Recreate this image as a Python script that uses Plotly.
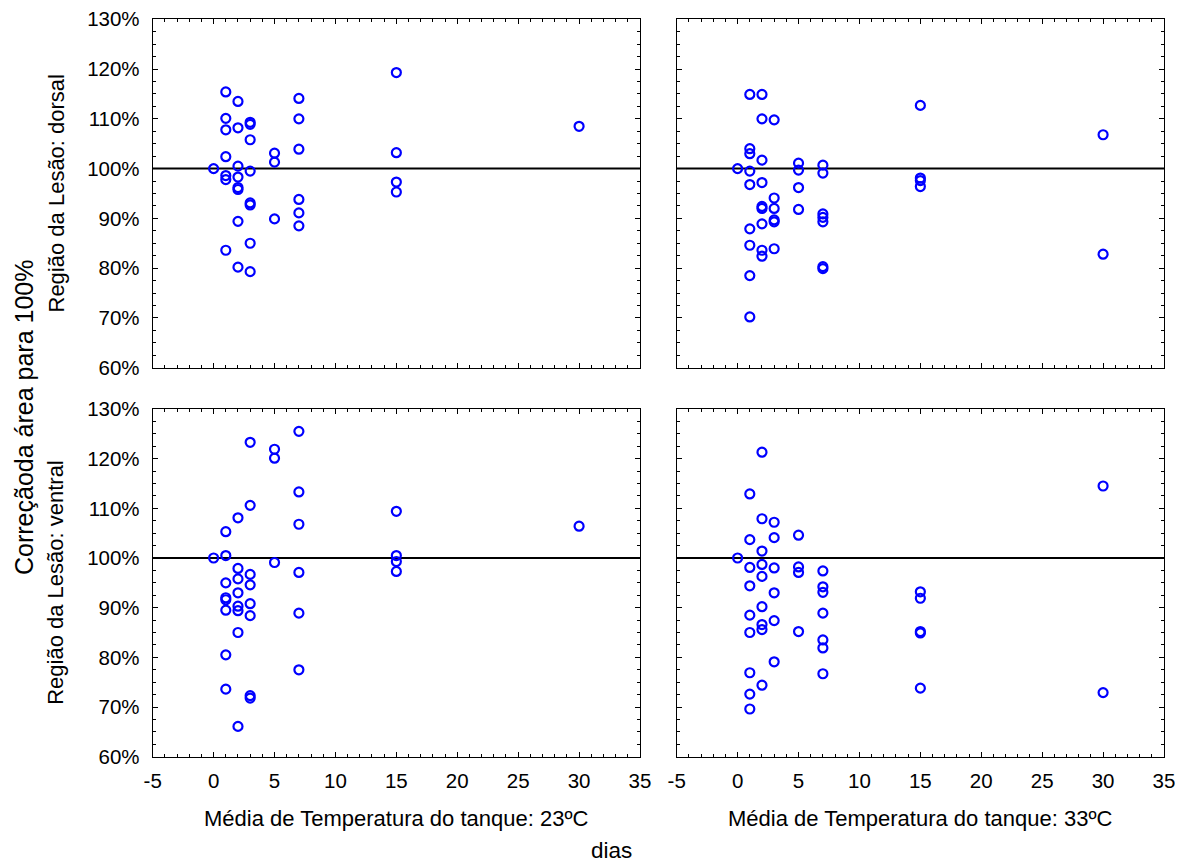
import plotly.graph_objects as go

# ---- data (days, % area) ----
dias_dorsal_23 = [0, 1, 1, 1, 1, 1, 1, 1, 2, 2, 2, 2, 2, 2, 2, 2,
                  3, 3, 3, 3, 3, 3, 3, 3, 5, 5, 5, 7, 7, 7, 7, 7, 7,
                  15, 15, 15, 15, 30]
val_dorsal_23 = [100.0, 115.4, 110.1, 107.8, 102.4, 98.6, 97.8, 83.6,
                 113.5, 108.2, 100.5, 98.3, 96.2, 95.8, 89.4, 80.2,
                 109.3, 108.9, 105.8, 99.5, 93.1, 92.7, 85.0, 79.3,
                 103.1, 101.3, 89.9,
                 114.1, 110.0, 103.9, 93.8, 91.1, 88.5,
                 119.3, 103.2, 97.3, 95.3,
                 108.5]

dias_dorsal_33 = [0, 1, 1, 1, 1, 1, 1, 1, 1, 1,
                  2, 2, 2, 2, 2, 2, 2, 2, 2,
                  3, 3, 3, 3, 3, 3, 5, 5, 5, 5,
                  7, 7, 7, 7, 7, 7, 7, 15, 15, 15, 15, 30, 30]
val_dorsal_33 = [100.0, 114.9, 104.0, 103.0, 99.5, 96.8, 87.9, 84.6, 78.5, 70.2,
                 114.9, 110.0, 101.7, 97.2, 92.4, 92.0, 88.9, 83.6, 82.4,
                 109.8, 94.1, 92.0, 89.7, 89.3, 83.9,
                 101.1, 99.7, 96.2, 91.8,
                 100.7, 99.1, 90.9, 90.2, 89.3, 80.3, 79.9,
                 112.7, 98.1, 97.6, 96.4,
                 106.8, 82.8]

dias_ventral_23 = [0, 1, 1, 1, 1, 1, 1, 1, 1,
                   2, 2, 2, 2, 2, 2, 2, 2,
                   3, 3, 3, 3, 3, 3, 3, 3, 5, 5, 5,
                   7, 7, 7, 7, 7, 7, 15, 15, 15, 15, 30]
val_ventral_23 = [100.0, 105.3, 100.5, 95.0, 92.0, 91.6, 89.5, 80.5, 73.6,
                  108.1, 97.9, 95.8, 93.0, 90.3, 89.4, 85.0, 66.1,
                  123.3, 110.6, 96.7, 94.6, 90.8, 88.4, 72.3, 71.8,
                  121.9, 120.1, 99.1,
                  125.5, 113.3, 106.8, 97.1, 88.9, 77.5,
                  109.4, 100.5, 99.3, 97.3,
                  106.4]

dias_ventral_33 = [0, 1, 1, 1, 1, 1, 1, 1, 1, 1,
                   2, 2, 2, 2, 2, 2, 2, 2, 2,
                   3, 3, 3, 3, 3, 3, 5, 5, 5, 5,
                   7, 7, 7, 7, 7, 7, 7, 15, 15, 15, 15, 15, 30, 30]
val_ventral_33 = [100.0, 112.9, 103.7, 98.1, 94.4, 88.5, 85.0, 76.9, 72.6, 69.6,
                  121.3, 107.9, 101.4, 98.7, 96.3, 90.2, 86.6, 85.6, 74.4,
                  107.2, 104.1, 98.0, 93.0, 87.4, 79.1,
                  104.6, 98.2, 97.1, 85.2,
                  97.4, 94.2, 93.1, 88.9, 83.5, 81.9, 76.7,
                  93.2, 91.9, 85.2, 84.9, 73.8,
                  114.5, 72.9]

x_ticks = [-5, 0, 5, 10, 15, 20, 25, 30, 35]
x_labels = ["-5", "0", "5", "10", "15", "20", "25", "30", "35"]
y_ticks = [60, 70, 80, 90, 100, 110, 120, 130]
y_labels = ["60%", "70%", "80%", "90%", "100%", "110%", "120%", "130%"]
referencia = 100

titulo_y = "Correçãoda área para 100%"
titulo_linha = ["Região da Lesão: dorsal", "Região da Lesão: ventral"]
titulo_coluna = ["Média de Temperatura do tanque: 23ºC", "Média de Temperatura do tanque: 33ºC"]
titulo_x = "dias"

# ---- figure ----
# the page has an 8px body margin; the figure fills the rest of the 1183x865 window
OFF = 8
W, H = 1183 - OFF, 865 - OFF
FONT = "Liberation Sans, Arial, sans-serif"

fig = go.Figure()

panels = [
    (dias_dorsal_23, val_dorsal_23, "x", "y"),
    (dias_dorsal_33, val_dorsal_33, "x2", "y2"),
    (dias_ventral_23, val_ventral_23, "x3", "y3"),
    (dias_ventral_33, val_ventral_33, "x4", "y4"),
]
for xs, ys, xa, ya in panels:
    fig.add_trace(go.Scatter(
        x=xs, y=ys, xaxis=xa, yaxis=ya, mode="markers",
        marker=dict(symbol="circle-open", size=9, color="#0000FF",
                    line=dict(width=2.2, color="#0000FF")),
        showlegend=False, hoverinfo="x+y"))

# page pixel geometry -> paper coordinates
def fx(px):
    return (px - OFF) / W

def fy(py):
    return 1 - (py - OFF) / H

col_dom = [[fx(152.7), fx(640)], [fx(676.7), fx(1164)]]
row_dom = [[fy(367.7), fy(19.3)], [fy(756.7), fy(409)]]

def xaxis(dom, anchor, labels):
    return dict(domain=dom, anchor=anchor, range=[-5, 35], tickmode="array",
                tickvals=x_ticks, ticktext=x_labels, automargin=False,
                ticklabeloverflow="allow",
                showticklabels=labels, ticks="inside", ticklen=5, tickwidth=1,
                tickcolor="black", mirror="ticks", showline=True, linecolor="black",
                linewidth=1, showgrid=False, zeroline=False,
                minor=dict(dtick=1, ticks="inside", ticklen=3, tickcolor="black",
                           tickwidth=1, showgrid=False),
                tickfont=dict(family=FONT, size=20.5, color="black"),
                ticklabelstandoff=6)

def yaxis(dom, anchor, labels):
    return dict(domain=dom, anchor=anchor, range=[60, 130], tickmode="array",
                tickvals=y_ticks, ticktext=y_labels, automargin=False,
                ticklabeloverflow="allow",
                showticklabels=labels, ticks="inside", ticklen=5,
                tickwidth=1, tickcolor="black", mirror="ticks", showline=True,
                linecolor="black", linewidth=1, showgrid=False, zeroline=False,
                minor=dict(dtick=2.5, ticks="inside", ticklen=3, tickcolor="black",
                           tickwidth=1, showgrid=False),
                tickfont=dict(family=FONT, size=20.5, color="black"),
                ticklabelstandoff=8)

fig.update_layout(
    template="none",
    width=W, height=H,
    margin=dict(l=0, r=0, t=0, b=0, autoexpand=False),
    paper_bgcolor="white", plot_bgcolor="white",
    font=dict(family=FONT, color="black"),
    xaxis=xaxis(col_dom[0], "y", False),
    yaxis=yaxis(row_dom[0], "x", True),
    xaxis2=xaxis(col_dom[1], "y2", False),
    yaxis2=yaxis(row_dom[0], "x2", False),
    xaxis3=xaxis(col_dom[0], "y3", True),
    yaxis3=yaxis(row_dom[1], "x3", True),
    xaxis4=xaxis(col_dom[1], "y4", True),
    yaxis4=yaxis(row_dom[1], "x4", False),
)

# reference line at 100%
for xa, ya in [("x", "y"), ("x2", "y2"), ("x3", "y3"), ("x4", "y4")]:
    fig.add_shape(type="line", xref=f"{xa} domain", yref=ya, x0=0, x1=1,
                  y0=referencia, y1=referencia, line=dict(color="black", width=2),
                  layer="below")

ann_font = dict(family=FONT, size=22, color="black")
fig.add_annotation(text=titulo_y, x=fx(24), y=fy(418), xref="paper", yref="paper",
                   textangle=-90, showarrow=False, font=dict(family=FONT, size=25, color="black"),
                   xanchor="center", yanchor="middle")
for i, t in enumerate(titulo_linha):
    cy = (row_dom[i][0] + row_dom[i][1]) / 2
    fig.add_annotation(text=t, x=fx(56), y=cy, xref="paper", yref="paper",
                       textangle=-90, showarrow=False, font=ann_font,
                       xanchor="center", yanchor="middle")
for i, t in enumerate(titulo_coluna):
    cx = (col_dom[i][0] + col_dom[i][1]) / 2
    fig.add_annotation(text=t, x=cx, y=fy(818), xref="paper", yref="paper",
                       showarrow=False, font=ann_font, xanchor="center", yanchor="middle")
fig.add_annotation(text=titulo_x, x=fx(611), y=0, xref="paper", yref="paper",
                   showarrow=False, font=dict(family=FONT, size=22.5, color="black"),
                   xanchor="center", yanchor="bottom")

fig.write_html("out.html")
